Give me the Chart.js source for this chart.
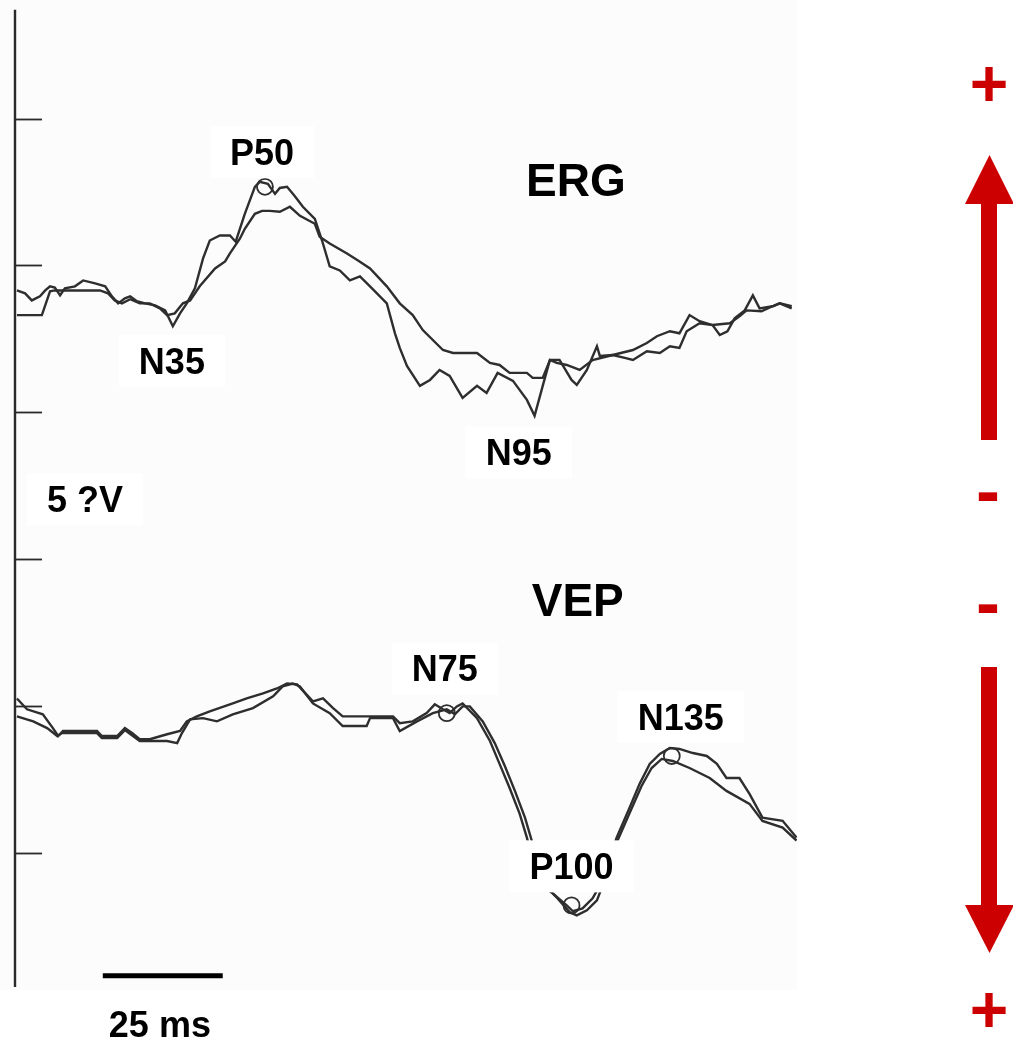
<!DOCTYPE html>
<html>
<head>
<meta charset="utf-8">
<script src="https://cdn.jsdelivr.net/npm/chart.js@4.4.1/dist/chart.umd.min.js"></script>
<style>
html,body{margin:0;padding:0;background:#ffffff;}
#wrap{width:1013px;height:1046px;position:relative;}
</style>
</head>
<body>
<div id="wrap"><canvas id="c"></canvas></div>
<script>
// ---- ERG traces (time in ms, amplitude in µV on the shared display axis) ----
const ergTimeA = [0.4,2.1,3.5,5.2,6.3,7.3,8.3,9.4,10.4,12.5,14.2,16.7,18.8,20.2,21.5,22.9,24.0,25.4,27.1,29.2,31.3,32.9,34.4,35.8,37.5,39.2,40.6,42.7,44.8,46.0,47.9,50.0,51.0,52.7,54.2,55.2,56.7,58.3,60.0,62.5,64.0,65.6,67.7,69.8,71.9,74.0,77.5,79.2,80.2,81.7,84.4,86.5,88.5,90.6,93.3,96.3,98.3,100.6,103.8,106.7,108.3,110.0,111.5,113.5,116.0,117.1,119.2,121.3,121.9,124.6,127.1,128.8,131.7,134.4,136.5,138.5,140.0,142.7,145.4,146.9,148.5,150.0,152.1,153.8,155.2,157.9,159.4,161.9];
const ergValA  = [19.15,19.05,18.81,18.95,19.15,19.29,19.25,18.98,19.22,19.29,19.49,19.39,19.29,18.95,18.71,18.88,18.95,18.78,18.71,18.64,18.47,17.93,18.37,18.71,19.22,20.24,20.85,21.02,21.02,20.81,21.76,22.68,22.85,22.78,22.44,22.64,22.68,22.37,22.0,21.59,20.85,19.97,19.83,19.49,19.63,19.29,18.71,17.69,17.19,16.58,15.9,16.1,16.44,16.24,15.49,15.9,15.66,16.34,16.07,15.42,14.88,15.9,16.78,16.78,16.1,15.93,16.44,17.25,16.92,16.95,16.85,16.78,17.08,17.02,17.25,17.19,17.76,18.03,17.97,17.63,17.76,18.2,18.47,18.98,18.54,18.61,18.71,18.54];
const ergTimeB = [0.4,3.1,5.6,7.3,8.3,10.4,15.6,17.7,19.4,20.8,22.3,24.0,26.0,28.1,30.2,31.7,33.3,35.0,36.5,38.5,41.7,43.8,44.8,46.9,47.9,50.0,51.5,53.1,55.2,57.3,59.4,62.5,63.5,65.6,69.2,71.5,74.0,77.5,80.2,82.9,85.0,89.2,91.3,96.3,99.0,101.0,103.1,106.7,107.9,110.0,111.5,112.9,115.0,117.7,120.4,124.6,128.8,131.7,133.8,136.5,138.5,140.6,142.7,145.4,149.0,151.0,152.5,155.6,157.9,159.4,161.9];
const ergValB  = [18.31,18.31,18.31,19.12,19.15,19.15,19.15,19.15,19.05,18.81,18.71,18.85,18.71,18.71,18.54,18.31,18.37,18.71,18.81,19.29,19.9,20.14,20.41,20.92,21.25,21.76,21.86,21.86,21.83,22.0,21.69,21.42,20.98,20.75,20.41,20.17,19.9,19.29,18.71,18.31,17.8,17.12,17.02,17.02,16.68,16.61,16.34,16.34,16.17,16.17,16.78,16.68,16.61,16.44,16.78,16.95,17.12,17.36,17.59,17.76,17.69,18.31,18.1,17.97,18.03,18.27,18.47,18.44,18.61,18.71,18.61];

// ---- VEP traces ----
const vepTimeC = [0.4,2.5,5.8,7.9,9.0,10.0,17.1,18.1,21.3,22.9,24.4,26.0,28.1,31.7,34.4,35.8,37.9,40.6,45.4,48.3,51.7,54.6,56.7,58.8,62.1,64.2,66.3,68.3,73.3,78.8,80.2,82.9,85.8,87.5,89.2,90.6,92.1,93.3,96.3,99.0,101.0,103.1,105.2,106.7,107.9,109.4,112.1,115.0,116.3,118.3,120.4,121.9,123.3,125.4,128.1,130.2,132.3,134.4,136.5,138.5,141.3,144.2,146.3,148.3,151.0,153.1,155.8,160.0,162.9];
const vepValC  = [5.25,4.88,4.71,4.24,3.97,4.14,4.14,3.97,3.97,4.24,4.07,3.86,3.86,4.03,4.14,4.47,4.64,4.81,5.08,5.25,5.42,5.59,5.76,5.73,5.15,5.25,4.92,4.64,4.64,4.64,4.41,4.47,4.75,5.05,4.88,4.75,4.98,5.08,4.58,3.8,3.02,2.2,1.32,0.51,-0.27,-1.05,-1.39,-1.8,-2.0,-1.9,-1.56,-1.12,-0.51,0.51,1.53,2.34,3.02,3.36,3.56,3.53,3.39,3.29,3.02,2.54,2.54,2.0,1.19,1.08,0.51];
const vepTimeD = [0.4,3.8,6.7,8.8,9.8,17.1,18.1,21.3,22.9,26.0,31.7,33.8,34.8,36.5,39.2,42.1,45.4,49.6,53.8,55.8,57.9,59.4,62.1,65.6,68.3,73.3,74.0,78.8,80.2,83.8,87.1,90.0,91.7,93.3,94.8,97.5,100.0,102.1,104.2,106.3,107.7,109.0,110.4,113.1,115.6,117.1,119.2,121.3,122.5,124.0,125.6,128.5,130.6,132.7,134.8,137.1,140.6,144.8,148.3,153.1,155.8,160.0,162.9];
const vepValD  = [4.64,4.47,4.24,3.97,4.07,4.07,3.9,3.9,4.17,3.8,3.8,3.73,4.07,4.54,4.58,4.47,4.71,4.92,5.32,5.66,5.76,5.66,5.08,4.75,4.31,4.31,4.58,4.58,4.14,4.47,4.75,4.88,4.71,4.98,4.98,4.47,3.73,2.95,2.1,1.19,0.41,-0.34,-1.12,-1.56,-2.03,-2.14,-1.97,-1.63,-1.12,-0.44,0.41,1.49,2.27,2.88,3.19,3.12,2.88,2.54,2.1,1.66,1.08,0.85,0.41];

// ---- Marked peaks ----
const peakNames  = ['P50','N75','P100','N135'];
const peakTimes  = [52.1, 90.0, 116.0, 136.9];
const peakValues = [22.68, 4.75, -1.8, 3.29];

// ---- Axis ticks (µV) and 25 ms calibration bar ----
const yTickValues   = [0, 5, 10, 15, 20, 25];
const scaleBarTimes = [18.3, 43.3];
const scaleBarLevel = [-4.2, -4.2];

// ---- Text labels (anchored in data coordinates) ----
const labelTexts  = ['P50','ERG','N35','N95','5 ?V','VEP','N75','N135','P100','25 ms'];
const labelTimes  = [51.5, 116.9, 32.7, 105.0, 14.6, 117.3, 89.6, 138.75, 116.0, 30.2];
const labelValues = [23.86, 22.92, 16.75, 13.63, 12.03, 8.61, 6.27, 4.61, -0.47, -5.86];

const pts = (ts, vs) => ts.map((t, i) => ({x: t, y: vs[i]}));

const labelFont = {normal: 36, big: 46};
const bigLabels = ['ERG', 'VEP'];
const traceColor = '#2e2e2e';
const red = '#cc0000';

const decorPlugin = {
  id: 'decor',
  beforeDraw(chart) {
    const ctx = chart.ctx;
    ctx.save();
    ctx.fillStyle = '#fcfcfc';
    ctx.fillRect(0, 0, chart.chartArea.right, chart.chartArea.bottom + 3);
    ctx.restore();
  },
  beforeDatasetsDraw(chart) {
    const ctx = chart.ctx, xs = chart.scales.x, ys = chart.scales.y;
    const ax = xs.getPixelForValue(0);
    ctx.save();
    ctx.strokeStyle = '#2a2a2a';
    ctx.lineWidth = 2.4;
    ctx.beginPath();
    ctx.moveTo(ax, chart.chartArea.top);
    ctx.lineTo(ax, chart.chartArea.bottom);
    ctx.stroke();
    ctx.lineWidth = 1.8;
    yTickValues.forEach(v => {
      const py = Math.round(ys.getPixelForValue(v)) + 0.5;
      ctx.beginPath();
      ctx.moveTo(ax, py);
      ctx.lineTo(ax + 27, py);
      ctx.stroke();
    });
    ctx.restore();
  },
  afterDatasetsDraw(chart) {
    const ctx = chart.ctx, xs = chart.scales.x, ys = chart.scales.y;
    ctx.save();
    labelTexts.forEach((txt, i) => {
      const size = bigLabels.includes(txt) ? labelFont.big : labelFont.normal;
      ctx.font = 'bold ' + size + 'px "Liberation Sans", Arial, sans-serif';
      const w = ctx.measureText(txt).width;
      const cx = xs.getPixelForValue(labelTimes[i]);
      const cy = ys.getPixelForValue(labelValues[i]);
      if (!bigLabels.includes(txt) && txt !== '25 ms') {
        ctx.fillStyle = '#ffffff';
        ctx.fillRect(cx - w / 2 - 20, cy - 26, w + 40, 52);
      }
      ctx.fillStyle = '#000000';
      ctx.textAlign = 'center';
      ctx.textBaseline = 'alphabetic';
      ctx.fillText(txt, cx, cy + size * 0.358);
    });
    ctx.restore();
  },
  afterDraw(chart) {
    const ctx = chart.ctx;
    ctx.save();
    ctx.fillStyle = red;
    // up arrow
    ctx.fillRect(981, 200, 16, 240);
    ctx.beginPath();
    ctx.moveTo(965, 204); ctx.lineTo(1014, 204); ctx.lineTo(989.5, 155); ctx.closePath(); ctx.fill();
    // down arrow
    ctx.fillRect(981, 667, 16, 242);
    ctx.beginPath();
    ctx.moveTo(965, 905); ctx.lineTo(1014, 905); ctx.lineTo(989.5, 953); ctx.closePath(); ctx.fill();
    // signs
    ctx.textAlign = 'center';
    ctx.textBaseline = 'alphabetic';
    ctx.font = 'bold 66px "Liberation Sans", Arial, sans-serif';
    ctx.fillText('+', 989, 83 + 23);
    ctx.fillText('+', 989, 1009 + 23);
    ctx.font = 'bold 72px "Liberation Sans", Arial, sans-serif';
    ctx.fillText('-', 988, 495 + 20);
    ctx.fillText('-', 988, 607 + 20);
    ctx.restore();
  }
};

const lineDs = (data) => ({
  data, borderColor: traceColor, borderWidth: 2.4, pointRadius: 0, tension: 0, fill: false
});

new Chart(document.getElementById('c'), {
  type: 'line',
  data: {
    datasets: [
      lineDs(pts(ergTimeA, ergValA)),
      lineDs(pts(ergTimeB, ergValB)),
      lineDs(pts(vepTimeC, vepValC)),
      lineDs(pts(vepTimeD, vepValD)),
      {
        data: pts(peakTimes, peakValues),
        showLine: false,
        pointRadius: 8,
        pointBorderWidth: 1.8,
        pointBorderColor: traceColor,
        pointBackgroundColor: 'rgba(0,0,0,0)',
        pointStyle: 'circle'
      },
      {
        data: pts(scaleBarTimes, scaleBarLevel),
        borderColor: '#000000',
        borderWidth: 5,
        pointRadius: 0,
        borderCapStyle: 'butt'
      }
    ]
  },
  options: {
    responsive: true,
    maintainAspectRatio: false,
    animation: false,
    events: [],
    layout: {padding: {left: 15, right: 216, top: 5, bottom: 59}},
    plugins: {legend: {display: false}, tooltip: {enabled: false}},
    scales: {
      x: {type: 'linear', min: 0, max: 163, display: false},
      y: {type: 'linear', min: -4.58, max: 28.71, display: false}
    }
  },
  plugins: [decorPlugin]
});
</script>
</body>
</html>
